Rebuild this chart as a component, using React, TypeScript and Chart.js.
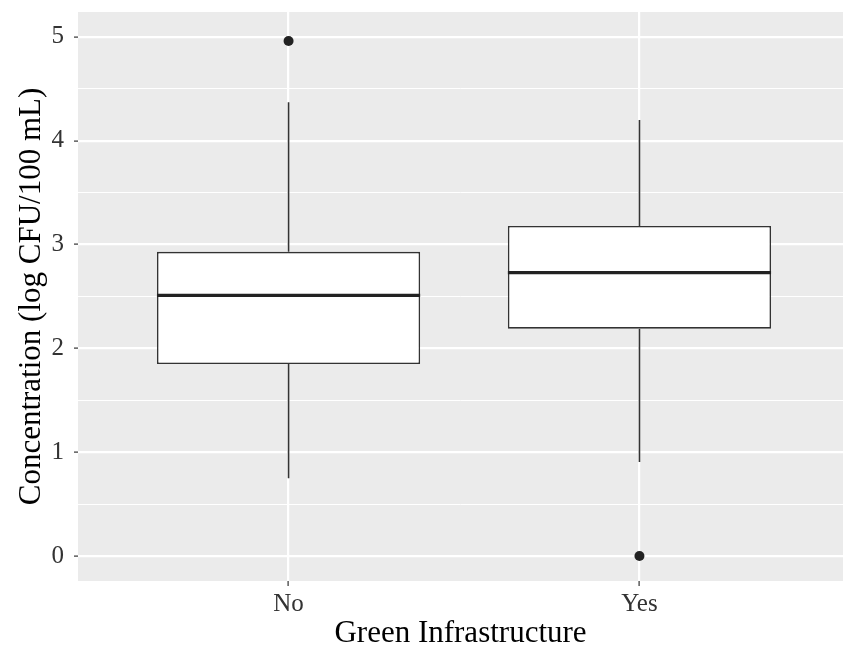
import { useEffect, useRef } from 'react';
import { Chart, registerables } from 'chart.js';

Chart.register(...registerables);

const categories = ['No', 'Yes'];
const categoryPositions = [1, 2];
const lowerWhisker = [0.75, 0.905];
const firstQuartile = [1.85, 2.19];
const medians = [2.51, 2.73];
const thirdQuartile = [2.93, 3.18];
const upperWhisker = [4.37, 4.2];
const outlierValues = [[4.96], [0]];
const yTickValues = [0, 1, 2, 3, 4, 5];
const yMinorValues = [0.5, 1.5, 2.5, 3.5, 4.5];

const FONT = "'Liberation Serif', 'Times New Roman', serif";

export default function App() {
  const ref = useRef<HTMLCanvasElement>(null);

  useEffect(() => {
    const canvas = ref.current;
    if (!canvas) return;

    const panelPlugin = {
      id: 'panelBg',
      beforeDraw(chart: any) {
        const { ctx, chartArea: a } = chart;
        ctx.save();
        ctx.fillStyle = '#EBEBEB';
        ctx.fillRect(a.left, a.top, a.right - a.left, a.bottom - a.top);
        ctx.restore();
      },
    };

    const boxPartsPlugin = {
      id: 'boxParts',
      afterDatasetsDraw(chart: any) {
        const { ctx } = chart;
        const xs = chart.scales.x;
        const ys = chart.scales.y;
        const meta = chart.getDatasetMeta(0);
        ctx.save();
        categoryPositions.forEach((pos, i) => {
          const cx = xs.getPixelForValue(pos);
          const half = meta.data[i].width / 2;
          ctx.strokeStyle = '#333333';
          ctx.lineWidth = 1.6;
          ctx.beginPath();
          ctx.moveTo(cx, ys.getPixelForValue(thirdQuartile[i]));
          ctx.lineTo(cx, ys.getPixelForValue(upperWhisker[i]));
          ctx.moveTo(cx, ys.getPixelForValue(firstQuartile[i]));
          ctx.lineTo(cx, ys.getPixelForValue(lowerWhisker[i]));
          ctx.stroke();
          const my = ys.getPixelForValue(medians[i]);
          ctx.strokeStyle = '#222222';
          ctx.lineWidth = 3.2;
          ctx.beginPath();
          ctx.moveTo(cx - half, my);
          ctx.lineTo(cx + half, my);
          ctx.stroke();
        });
        ctx.restore();
      },
    };

    const boxData = categoryPositions.map((x, i) => ({ x, y: [firstQuartile[i], thirdQuartile[i]] }));
    const outlierData: { x: number; y: number }[] = [];
    categoryPositions.forEach((x, i) => outlierValues[i].forEach((y) => outlierData.push({ x, y })));

    const chart = new Chart(canvas, {
      type: 'bar',
      data: {
        datasets: [
          {
            type: 'bar',
            data: boxData as any,
            backgroundColor: '#FFFFFF',
            borderColor: '#333333',
            borderWidth: 1.6,
            borderSkipped: false,
            grouped: false,
            categoryPercentage: 1,
            barPercentage: 0.75,
          } as any,
          {
            type: 'scatter',
            data: outlierData as any,
            pointRadius: 5,
            pointBackgroundColor: '#222222',
            pointBorderWidth: 0,
            showLine: false,
          } as any,
        ],
      },
      options: {
        animation: false,
        responsive: false,
        maintainAspectRatio: false,
        layout: { padding: { left: 0, top: 12, right: 8, bottom: 0 } },
        plugins: { legend: { display: false }, tooltip: { enabled: false } },
        scales: {
          x: {
            type: 'linear',
            min: 0.4,
            max: 2.58,
            offset: false,
            border: { display: false },
            grid: {
              offset: false,
              color: '#FFFFFF',
              lineWidth: 2.2,
              tickColor: '#333333',
              tickLength: 5,
              tickWidth: 1.2,
            },
            afterBuildTicks: (scale: any) => {
              scale.ticks = categoryPositions.map((v) => ({ value: v }));
            },
            afterFit: (scale: any) => {
              scale.height = 74;
              scale.paddingLeft = 0;
              scale.paddingRight = 0;
            },
            ticks: {
              padding: 3.5,
              color: '#333333',
              font: { family: FONT, size: 25 },
              maxRotation: 0,
              autoSkip: false,
              callback: (value: any) => {
                const idx = categoryPositions.indexOf(Number(value));
                return idx >= 0 ? categories[idx] : '';
              },
            },
            title: {
              display: true,
              text: 'Green Infrastructure',
              color: '#000000',
              font: { family: FONT, size: 31 },
              padding: { top: 0, bottom: 2.4 },
            },
          },
          y: {
            type: 'linear',
            min: -0.24,
            max: 5.24,
            border: { display: false },
            grid: {
              color: '#FFFFFF',
              lineWidth: (ctx: any) => (yTickValues.includes(ctx.tick?.value) ? 2.2 : 1),
              tickColor: (ctx: any) => (yTickValues.includes(ctx.tick?.value) ? '#333333' : 'rgba(0,0,0,0)'),
              tickLength: 4,
              tickWidth: 1.2,
            },
            afterBuildTicks: (scale: any) => {
              scale.ticks = [...yTickValues, ...yMinorValues]
                .sort((a, b) => a - b)
                .map((v) => ({ value: v }));
            },
            afterFit: (scale: any) => {
              scale.width = 78;
              scale.paddingTop = 0;
              scale.paddingBottom = 0;
            },
            ticks: {
              padding: 10,
              color: '#333333',
              font: { family: FONT, size: 25 },
              autoSkip: false,
              callback: (value: any) => (yTickValues.includes(Number(value)) ? String(value) : ''),
            },
            title: {
              display: true,
              text: 'Concentration (log CFU/100 mL)',
              color: '#000000',
              font: { family: FONT, size: 31 },
              padding: { top: 13.4, bottom: 0 },
            },
          },
        },
      },
      plugins: [panelPlugin, boxPartsPlugin],
    });

    return () => chart.destroy();
  }, []);

  return (
    <div style={{ position: 'absolute', left: 0, top: 0, width: 851, height: 655, background: '#FFFFFF' }}>
      <canvas ref={ref} width={851} height={655} style={{ display: 'block' }} />
    </div>
  );
}
